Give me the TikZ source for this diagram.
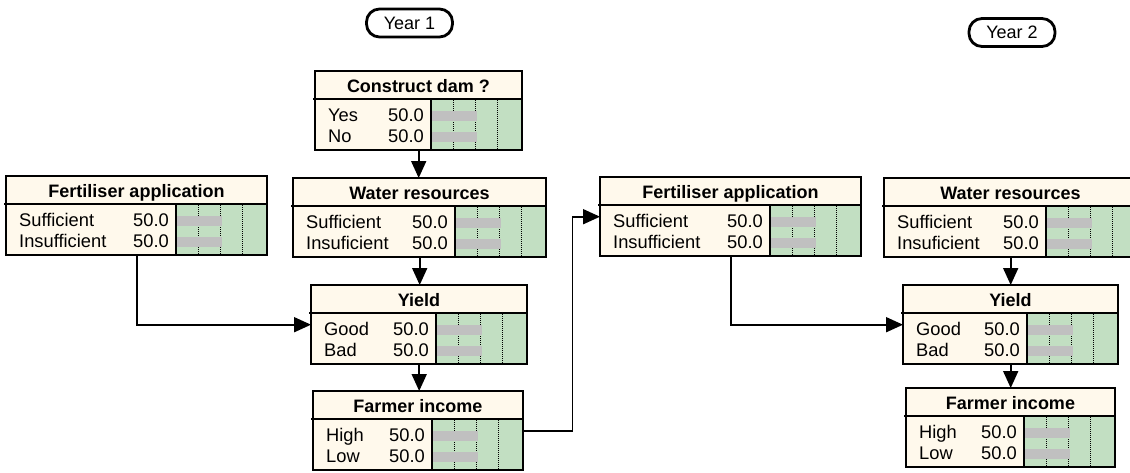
\documentclass[tikz,border=0pt]{standalone}
\usepackage{fontspec}
\setmainfont{Liberation Sans}
\usetikzlibrary{arrows.meta,calc}

\definecolor{cream}{RGB}{255,249,236}
\definecolor{paleg}{RGB}{194,223,194}
\definecolor{bargray}{RGB}{192,192,192}

% one network node: name, top left x, top left y, width, title, two states with values
\newcommand{\bnode}[9]{%
  \pgfmathsetmacro{\gx}{#2+#4-91}
  \node[cpt, minimum width=#4, anchor=north west] (#1) at (#2,#3) {};
  \fill[paleg] (\gx,#3+28) rectangle (#2+#4,#3+79);
  \draw[gline] (\gx+22,#3+29) -- (\gx+22,#3+78);
  \draw[gline] (\gx+44,#3+29) -- (\gx+44,#3+78);
  \draw[gline] (\gx+66,#3+29) -- (\gx+66,#3+78);
  \fill[bargray] (\gx+1,#3+40) rectangle (\gx+46,#3+50);
  \fill[bargray] (\gx+1,#3+61) rectangle (\gx+46,#3+71);
  \draw[bord] (#2-2,#3+28) -- (#2+#4,#3+28) (\gx,#3+28) -- (\gx,#3+79);
  \draw[bord] (#1.north west) rectangle (#1.south east);
  \node[ttl] at (#2+#4/2,#3+21) {#5};
  \node[st] at (#2+13,#3+50) {#6};
  \node[vl] at (\gx-7,#3+50) {#7};
  \node[st] at (#2+13,#3+71) {#8};
  \node[vl] at (\gx-7,#3+71) {#9};
}

\begin{document}
\begin{tikzpicture}[x=1pt,y=-1pt,
cpt/.style ={rectangle, fill=cream, minimum height=79, inner sep=0},
bord/.style ={line width=2pt},
gline/.style ={densely dotted, line width=1pt},
ttl/.style ={anchor=base, inner sep=0, font=\bfseries\fontsize{18}{20}\selectfont},
st/.style ={anchor=base west, inner sep=0, font=\fontsize{18.3}{20}\selectfont},
vl/.style ={anchor=base east, inner sep=0, font=\fontsize{18.3}{20}\selectfont},
year/.style ={draw, line width=2.8pt, rounded corners=13pt, minimum width=86, minimum height=28, inner sep=0, font=\fontsize{18}{20}\selectfont},
link/.style ={line width=1.8pt, -{Triangle[length=17pt,width=15pt]}}
]
\clip (0,0) rectangle (1130,472);

\node[year] (Y1) at (409.5,23) {Year 1};
\node[year] (Y2) at (1012,32.5) {Year 2};

% year 1
\bnode{dam}{315}{71}{207}{Construct dam ?}{Yes}{50.0}{No}{50.0}
\bnode{fertI}{6}{176}{261}{Fertiliser application}{Sufficient}{50.0}{Insufficient}{50.0}
\bnode{watI}{293}{178}{253}{Water resources}{Sufficient}{50.0}{Insuficient}{50.0}
\bnode{yieldI}{311}{285}{216}{Yield}{Good}{50.0}{Bad}{50.0}
\bnode{incI}{313}{391}{210}{Farmer income}{High}{50.0}{Low}{50.0}

% year 2
\bnode{fertII}{600}{177}{261}{Fertiliser application}{Sufficient}{50.0}{Insufficient}{50.0}
\bnode{watII}{884}{178}{253}{Water resources}{Sufficient}{50.0}{Insuficient}{50.0}
\bnode{yieldII}{903}{285}{215}{Yield}{Good}{50.0}{Bad}{50.0}
\bnode{incII}{906}{388}{209}{Farmer income}{High}{50.0}{Low}{50.0}

\draw[link] (dam.south) -- (dam.south |- watI.north);
\draw[link] (watI.south) -- (watI.south |- yieldI.north);
\draw[link] (yieldI.south) -- (yieldI.south |- incI.north);
\draw[link] (fertI.south) |- (yieldI.west);
\draw[link] (incI.east) -- ++(49,0) |- (fertII.west);
\draw[link] (fertII.south) |- (yieldII.west);
\draw[link] (watII.south) -- (watII.south |- yieldII.north);
\draw[link] (yieldII.south) -- (yieldII.south |- incII.north);

\end{tikzpicture}
\end{document}
